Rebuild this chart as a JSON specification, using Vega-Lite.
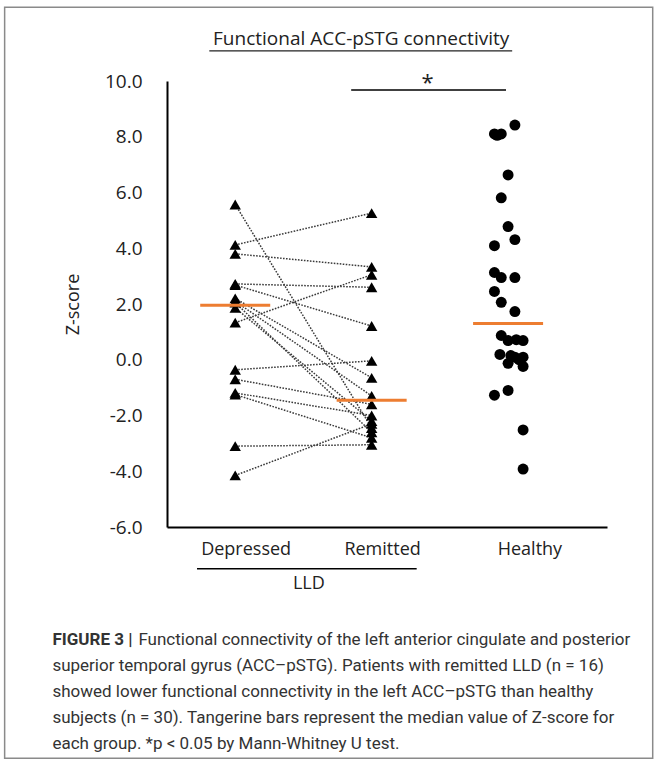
{
  "$schema": "https://vega.github.io/schema/vega-lite/v6.json",
  "width": 440,
  "height": 446,
  "autosize": {"type": "none"},
  "padding": {"left": 167, "top": 81, "right": 51, "bottom": 234},
  "background": "white",
  "config": {
    "view": {"stroke": null},
    "font": "Open Sans",
    "text": {"font": "Open Sans", "color": "#222"}
  },
  "datasets": {
    "points": [
      {"group": "Depressed", "idx": 1, "id": 1, "pos": 1, "z": 5.57},
      {"group": "Depressed", "idx": 1, "id": 2, "pos": 1, "z": 4.12},
      {"group": "Depressed", "idx": 1, "id": 3, "pos": 1, "z": 3.80},
      {"group": "Depressed", "idx": 1, "id": 4, "pos": 1, "z": 2.72},
      {"group": "Depressed", "idx": 1, "id": 5, "pos": 1, "z": 2.68},
      {"group": "Depressed", "idx": 1, "id": 6, "pos": 1, "z": 2.20},
      {"group": "Depressed", "idx": 1, "id": 7, "pos": 1, "z": 2.10},
      {"group": "Depressed", "idx": 1, "id": 8, "pos": 1, "z": 2.05},
      {"group": "Depressed", "idx": 1, "id": 9, "pos": 1, "z": 1.86},
      {"group": "Depressed", "idx": 1, "id": 10, "pos": 1, "z": 1.33},
      {"group": "Depressed", "idx": 1, "id": 11, "pos": 1, "z": -0.36},
      {"group": "Depressed", "idx": 1, "id": 12, "pos": 1, "z": -0.70},
      {"group": "Depressed", "idx": 1, "id": 13, "pos": 1, "z": -1.19},
      {"group": "Depressed", "idx": 1, "id": 14, "pos": 1, "z": -1.25},
      {"group": "Depressed", "idx": 1, "id": 15, "pos": 1, "z": -3.10},
      {"group": "Depressed", "idx": 1, "id": 16, "pos": 1, "z": -4.15},
      {"group": "Remitted", "idx": 2, "id": 1, "pos": 2, "z": -2.45},
      {"group": "Remitted", "idx": 2, "id": 2, "pos": 2, "z": 5.26},
      {"group": "Remitted", "idx": 2, "id": 3, "pos": 2, "z": 3.33},
      {"group": "Remitted", "idx": 2, "id": 4, "pos": 2, "z": 2.60},
      {"group": "Remitted", "idx": 2, "id": 5, "pos": 2, "z": 1.21},
      {"group": "Remitted", "idx": 2, "id": 6, "pos": 2, "z": -0.65},
      {"group": "Remitted", "idx": 2, "id": 7, "pos": 2, "z": -1.30},
      {"group": "Remitted", "idx": 2, "id": 8, "pos": 2, "z": -2.60},
      {"group": "Remitted", "idx": 2, "id": 9, "pos": 2, "z": -2.20},
      {"group": "Remitted", "idx": 2, "id": 10, "pos": 2, "z": 3.05},
      {"group": "Remitted", "idx": 2, "id": 11, "pos": 2, "z": -0.04},
      {"group": "Remitted", "idx": 2, "id": 12, "pos": 2, "z": -1.60},
      {"group": "Remitted", "idx": 2, "id": 13, "pos": 2, "z": -2.00},
      {"group": "Remitted", "idx": 2, "id": 14, "pos": 2, "z": -2.80},
      {"group": "Remitted", "idx": 2, "id": 15, "pos": 2, "z": -3.05},
      {"group": "Remitted", "idx": 2, "id": 16, "pos": 2, "z": -2.30},
      {"group": "Healthy", "idx": 3, "id": 101, "pos": 3.05, "z": 8.42},
      {"group": "Healthy", "idx": 3, "id": 102, "pos": 2.90, "z": 8.10},
      {"group": "Healthy", "idx": 3, "id": 103, "pos": 2.95, "z": 8.10},
      {"group": "Healthy", "idx": 3, "id": 104, "pos": 2.92, "z": 8.05},
      {"group": "Healthy", "idx": 3, "id": 105, "pos": 3.00, "z": 6.63},
      {"group": "Healthy", "idx": 3, "id": 106, "pos": 2.95, "z": 5.81},
      {"group": "Healthy", "idx": 3, "id": 107, "pos": 3.00, "z": 4.78},
      {"group": "Healthy", "idx": 3, "id": 108, "pos": 3.05, "z": 4.31},
      {"group": "Healthy", "idx": 3, "id": 109, "pos": 2.90, "z": 4.09},
      {"group": "Healthy", "idx": 3, "id": 110, "pos": 2.90, "z": 3.13},
      {"group": "Healthy", "idx": 3, "id": 111, "pos": 2.95, "z": 2.95},
      {"group": "Healthy", "idx": 3, "id": 112, "pos": 3.05, "z": 2.95},
      {"group": "Healthy", "idx": 3, "id": 113, "pos": 2.90, "z": 2.45},
      {"group": "Healthy", "idx": 3, "id": 114, "pos": 2.95, "z": 2.06},
      {"group": "Healthy", "idx": 3, "id": 115, "pos": 3.05, "z": 1.73},
      {"group": "Healthy", "idx": 3, "id": 116, "pos": 2.95, "z": 0.87},
      {"group": "Healthy", "idx": 3, "id": 117, "pos": 3.00, "z": 0.69},
      {"group": "Healthy", "idx": 3, "id": 118, "pos": 3.11, "z": 0.69},
      {"group": "Healthy", "idx": 3, "id": 119, "pos": 3.06, "z": 0.72},
      {"group": "Healthy", "idx": 3, "id": 120, "pos": 2.94, "z": 0.19},
      {"group": "Healthy", "idx": 3, "id": 121, "pos": 3.05, "z": 0.09},
      {"group": "Healthy", "idx": 3, "id": 122, "pos": 3.11, "z": 0.09},
      {"group": "Healthy", "idx": 3, "id": 123, "pos": 3.02, "z": 0.15},
      {"group": "Healthy", "idx": 3, "id": 124, "pos": 3.00, "z": -0.13},
      {"group": "Healthy", "idx": 3, "id": 125, "pos": 3.11, "z": -0.24},
      {"group": "Healthy", "idx": 3, "id": 126, "pos": 3.08, "z": 0.00},
      {"group": "Healthy", "idx": 3, "id": 127, "pos": 3.00, "z": -1.10},
      {"group": "Healthy", "idx": 3, "id": 128, "pos": 2.90, "z": -1.27},
      {"group": "Healthy", "idx": 3, "id": 129, "pos": 3.11, "z": -2.52},
      {"group": "Healthy", "idx": 3, "id": 130, "pos": 3.11, "z": -3.92}
    ]
  },
  "layer": [
    {
      "data": {"name": "points"},
      "transform": [{"filter": "datum.group !== 'Healthy'"}],
      "mark": {"type": "line", "color": "#3a3a3a", "strokeWidth": 1.5, "strokeDash": [1.6, 1.4]},
      "encoding": {
        "x": {"field": "pos", "type": "quantitative", "scale": {"domain": [0.5, 3.725], "nice": false, "zero": false},
          "axis": {"title": null, "labels": false, "ticks": false, "grid": false, "domainColor": "#000", "domainWidth": 2}},
        "y": {"field": "z", "type": "quantitative", "scale": {"domain": [-6, 10], "nice": false, "zero": false},
          "axis": {"title": "Z-score", "values": [-6, -4, -2, 0, 2, 4, 6, 8, 10],
            "labelExpr": "replace(format(datum.value, '.1f'), '\u2212', '-')", "ticks": false, "grid": false,
            "domainColor": "#000", "domainWidth": 2, "labelFontSize": 19, "labelColor": "#222", "labelPadding": 25,
            "labelFont": "Open Sans", "titleFont": "Open Sans", "titleFontSize": 18, "titleFontWeight": "normal",
            "titleColor": "#222", "titlePadding": 22}},
        "detail": {"field": "id"}
      }
    },
    {
      "data": {"name": "points"},
      "transform": [{"filter": "datum.group !== 'Healthy'"}],
      "mark": {"type": "point", "shape": "triangle-up", "filled": true, "color": "#000", "size": 130, "opacity": 1},
      "encoding": {
        "x": {"field": "pos", "type": "quantitative"},
        "y": {"field": "z", "type": "quantitative"}
      }
    },
    {
      "data": {"name": "points"},
      "transform": [{"filter": "datum.group === 'Healthy'"}],
      "mark": {"type": "circle", "color": "#000", "size": 120, "opacity": 1},
      "encoding": {
        "x": {"field": "pos", "type": "quantitative"},
        "y": {"field": "z", "type": "quantitative"}
      }
    },
    {
      "data": {"name": "points"},
      "transform": [{"aggregate": [{"op": "median", "field": "z", "as": "med"}], "groupby": ["group", "idx"]}],
      "mark": {"type": "tick", "orient": "horizontal", "color": "#ED7D31", "size": 70, "thickness": 3, "opacity": 1},
      "encoding": {
        "x": {"field": "idx", "type": "quantitative"},
        "y": {"field": "med", "type": "quantitative"}
      }
    },
    {
      "data": {"values": [{}]},
      "mark": {"type": "rect", "fill": null, "stroke": "#8a8a8a", "strokeWidth": 1.5, "clip": false},
      "encoding": {
        "x": {"datum": -0.69, "type": "quantitative"},
        "x2": {"datum": 4.06},
        "y": {"datum": 12.65, "type": "quantitative"},
        "y2": {"datum": -14.3}
      }
    },
    {
      "data": {"values": [{}]},
      "mark": {"type": "text", "fontSize": 19, "align": "center", "baseline": "middle", "clip": false},
      "encoding": {"x": {"datum": 1.923, "type": "quantitative"}, "y": {"datum": 11.5, "type": "quantitative"}, "text": {"value": "Functional ACC-pSTG connectivity"}}
    },
    {
      "data": {"values": [{}]},
      "mark": {"type": "rule", "color": "#222", "strokeWidth": 1.3, "clip": false},
      "encoding": {"x": {"datum": 0.81, "type": "quantitative"}, "x2": {"datum": 3.03}, "y": {"datum": 11.08, "type": "quantitative"}}
    },
    {
      "data": {"values": [{}]},
      "mark": {"type": "rule", "color": "#000", "strokeWidth": 1.5, "clip": false},
      "encoding": {"x": {"datum": 1.85, "type": "quantitative"}, "x2": {"datum": 2.985}, "y": {"datum": 9.68, "type": "quantitative"}}
    },
    {
      "data": {"values": [{}]},
      "mark": {"type": "text", "fontSize": 22, "align": "center", "baseline": "middle", "clip": false},
      "encoding": {"x": {"datum": 2.41, "type": "quantitative"}, "y": {"datum": 9.93, "type": "quantitative"}, "text": {"value": "*"}}
    },
    {
      "data": {"values": [{"label": "Depressed", "lx": 1.08}, {"label": "Remitted", "lx": 2.08}, {"label": "Healthy", "lx": 3.16}]},
      "mark": {"type": "text", "fontSize": 18, "align": "center", "baseline": "middle", "clip": false},
      "encoding": {"x": {"field": "lx", "type": "quantitative"}, "y": {"datum": -6.82, "type": "quantitative"}, "text": {"field": "label"}}
    },
    {
      "data": {"values": [{}]},
      "mark": {"type": "rule", "color": "#000", "strokeWidth": 1.5, "clip": false},
      "encoding": {"x": {"datum": 0.72, "type": "quantitative"}, "x2": {"datum": 2.33}, "y": {"datum": -7.5, "type": "quantitative"}}
    },
    {
      "data": {"values": [{}]},
      "mark": {"type": "text", "fontSize": 18, "align": "center", "baseline": "middle", "clip": false},
      "encoding": {"x": {"datum": 1.54, "type": "quantitative"}, "y": {"datum": -8.04, "type": "quantitative"}, "text": {"value": "LLD"}}
    },
    {
      "data": {"values": [{}]},
      "mark": {"type": "text", "font": "Roboto", "fontSize": 17, "fontWeight": "bold", "align": "left", "baseline": "middle", "color": "#333", "clip": false},
      "encoding": {"x": {"datum": -0.34, "type": "quantitative"}, "y": {"datum": -10.04, "type": "quantitative"}, "text": {"value": "FIGURE 3 |"}}
    },
    {
      "data": {"values": [{}]},
      "mark": {"type": "text", "font": "Roboto", "fontSize": 17, "align": "left", "baseline": "middle", "color": "#333", "dx": 86, "clip": false},
      "encoding": {"x": {"datum": -0.34, "type": "quantitative"}, "y": {"datum": -10.04, "type": "quantitative"}, "text": {"value": "Functional connectivity of the left anterior cingulate and posterior"}}
    },
    {
      "data": {"values": [{}]},
      "mark": {"type": "text", "font": "Roboto", "fontSize": 17, "align": "left", "baseline": "middle", "color": "#333", "lineHeight": 26, "clip": false},
      "encoding": {"x": {"datum": -0.34, "type": "quantitative"}, "y": {"datum": -10.97, "type": "quantitative"},
        "text": {"value": ["superior temporal gyrus (ACC–pSTG). Patients with remitted LLD (n = 16)", "showed lower functional connectivity in the left ACC–pSTG than healthy", "subjects (n = 30). Tangerine bars represent the median value of Z-score for", "each group. *p < 0.05 by Mann-Whitney U test."]}}
    }
  ]
}
